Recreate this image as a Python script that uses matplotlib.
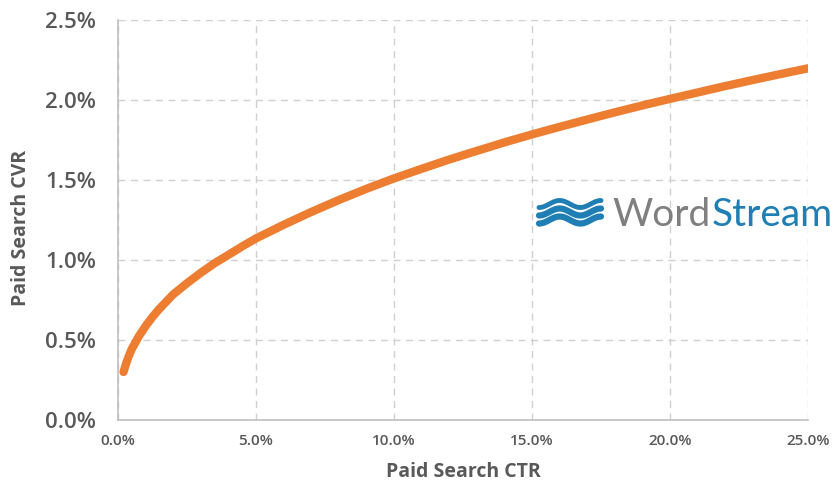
import numpy as np
import matplotlib.pyplot as plt
from matplotlib.ticker import FuncFormatter

# CTR (%) vs CVR (%)
ctr = [0.2, 0.3, 0.4, 0.5, 0.75, 1.0, 1.25, 1.5, 2.0, 2.5, 3.0, 3.5, 4.0, 4.5,
       5.0, 6.0, 7.0, 8.0, 9.0, 10.0, 11.0, 12.0, 13.0, 14.0, 15.0, 16.0,
       17.0, 18.0, 19.0, 20.0, 21.0, 22.0, 23.0, 24.0, 25.0]
cvr = [0.300, 0.357, 0.403, 0.444, 0.522, 0.587, 0.644, 0.695, 0.785, 0.855,
       0.920, 0.980, 1.032, 1.085, 1.135, 1.220, 1.300, 1.375, 1.445, 1.510,
       1.570, 1.628, 1.682, 1.735, 1.785, 1.832, 1.878, 1.923, 1.966, 2.007,
       2.047, 2.087, 2.125, 2.162, 2.198]
x_ticks = [0, 5, 10, 15, 20, 25]
y_ticks = [0, 0.5, 1.0, 1.5, 2.0, 2.5]

plt.rcParams['font.family'] = ['Open Sans', 'DejaVu Sans']
text_gray = '#595959'

fig = plt.figure(figsize=(8.38, 4.91), dpi=100)
ax = fig.add_axes([118/838, 1 - 420/491, 690/838, 400/491])

ax.plot(ctr, cvr, color='#ED7D31', lw=6, solid_capstyle='round',
        solid_joinstyle='round', zorder=3)

ax.set_xlim(0, 25)
ax.set_ylim(0, 2.5)
ax.set_xticks(x_ticks)
ax.set_yticks(y_ticks)
ax.xaxis.set_major_formatter(FuncFormatter(lambda v, p: f'{v:.1f}%'))
ax.yaxis.set_major_formatter(FuncFormatter(lambda v, p: f'{v:.1f}%'))
ax.tick_params(axis='both', length=0, colors=text_gray)
ax.tick_params(axis='x', labelsize=11, pad=10)
ax.tick_params(axis='y', labelsize=16, pad=16)
for lab in ax.get_xticklabels() + ax.get_yticklabels():
    lab.set_fontweight('semibold')

ax.grid(True, color='#D0D0D0', linestyle=(0, (5, 4)), lw=1)
for s in ['top', 'right']:
    ax.spines[s].set_visible(False)
for s in ['left', 'bottom']:
    ax.spines[s].set_color('#BFBFBF')
    ax.spines[s].set_linewidth(1.2)

ax.set_xlabel('Paid Search CTR', fontsize=14, fontweight='bold', color=text_gray, labelpad=10)
ax.set_ylabel('Paid Search CVR', fontsize=14, fontweight='bold', color=text_gray)
ax.yaxis.set_label_coords(-0.126, 0.48)

# WordStream logo
blue = '#1F7FB4'
t = np.linspace(0, 1, 60)
for i, w in enumerate([3.5, 4.5, 4.5]):
    xs = 539 + 62 * t
    ys = 204 + i * 8 + 3.5 * np.cos(2 * np.pi * 1.5 * t)
    fig.add_artist(plt.Line2D(xs / 838, 1 - ys / 491, color=blue, lw=w,
                              solid_capstyle='round'))
word = fig.text(612/838, 1 - 215/491, 'Word', fontsize=28, color='#7F7F7F',
                va='center', ha='left', family='Lato')
fig.canvas.draw()
bb = word.get_window_extent()
fig.text(bb.x1 / 838 + 0.002, 1 - 215/491, 'Stream', fontsize=28, color=blue,
         va='center', ha='left', family='Lato')

fig.savefig('out.png', dpi=100)
